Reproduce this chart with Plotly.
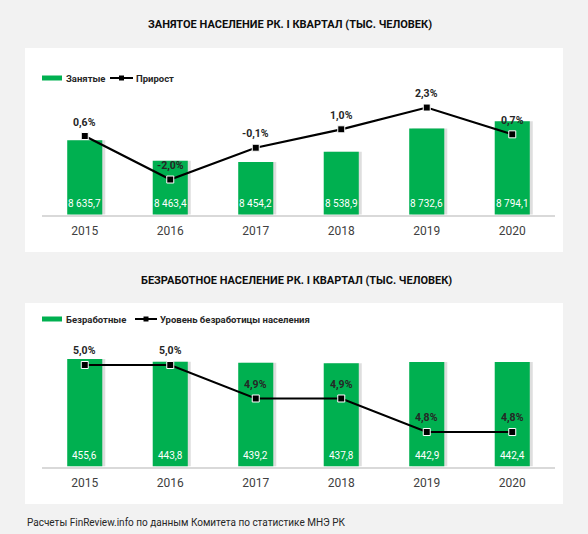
import plotly.graph_objects as go

# data
years = ["2015", "2016", "2017", "2018", "2019", "2020"]
employed = [8635.7, 8463.4, 8454.2, 8538.9, 8732.6, 8794.1]
employed_growth = [0.6, -2.0, -0.1, 1.0, 2.3, 0.7]
unemployed = [455.6, 443.8, 439.2, 437.8, 442.9, 442.4]
unemployment_rate = [5.0, 5.0, 4.9, 4.9, 4.8, 4.8]

title_top = "ЗАНЯТОЕ НАСЕЛЕНИЕ РК. I КВАРТАЛ (ТЫС. ЧЕЛОВЕК)"
title_bottom = "БЕЗРАБОТНОЕ НАСЕЛЕНИЕ РК. I КВАРТАЛ (ТЫС. ЧЕЛОВЕК)"
legend_top = ["Занятые", "Прирост"]
legend_bottom = ["Безработные", "Уровень безработицы населения"]
source_note = "Расчеты FinReview.info по данным Комитета по статистике МНЭ РК"

W, H = 588, 534
FONT = "Liberation Sans Narrow, Roboto, Arial, sans-serif"
GREEN = "#00b050"
BAR_W = 0.41


def fmt_num(v):
    return f"{v:,.1f}".replace(",", " ").replace(".", ",")


def fmt_pct(v):
    return f"{v:.1f}%".replace(".", ",")


def py(px):
    # pixel row -> paper fraction
    return 1 - px / H


def px_x(px):
    return px / W


fig = go.Figure()

panels = [
    # bars, line, axes (x, y, y2), bar axis range, line axis range
    (employed, employed_growth, ("x", "y", "y2"), [8015, 9013], [-4.09, 3.05]),
    (unemployed, unemployment_rate, ("x2", "y3", "y4"), [0, 536], [4.697, 5.0746]),
]

annotations = []
for bars, line, (xa, ya, ya2), yrange, y2range in panels:
    # soft shadow behind the bars
    fig.add_trace(go.Bar(x=years, y=bars, width=BAR_W, offset=-BAR_W / 2 + 0.035,
                         xaxis=xa, yaxis=ya,
                         marker=dict(color="rgba(0,0,0,0.13)", line=dict(width=0)),
                         showlegend=False, hoverinfo="skip"))
    fig.add_trace(go.Bar(x=years, y=bars, width=BAR_W, offset=-BAR_W / 2,
                         xaxis=xa, yaxis=ya,
                         marker=dict(color=GREEN, line=dict(width=0)),
                         showlegend=False))
    fig.add_trace(go.Scatter(x=years, y=line, mode="lines+markers",
                             xaxis=xa, yaxis=ya2,
                             line=dict(color="black", width=2.2),
                             marker=dict(symbol="square", size=7, color="black",
                                         line=dict(color="white", width=1)),
                             showlegend=False))

    # category axes take the category index for annotations
    for i, b in enumerate(bars):
        annotations.append(dict(x=i, y=yrange[0], xref=xa, yref=ya, yshift=11.5,
                                text=fmt_num(b), showarrow=False, yanchor="middle",
                                font=dict(family=FONT, size=10, color="white")))
    for i, v in enumerate(line):
        annotations.append(dict(x=i, y=v, xref=xa, yref=ya2, yshift=14,
                                text="<b>" + fmt_pct(v) + "</b>", showarrow=False,
                                yanchor="middle",
                                font=dict(family=FONT, size=10.5, color="#262626")))

# titles and note
annotations += [
    dict(x=px_x(290), y=py(24), xref="paper", yref="paper", text="<b>" + title_top + "</b>",
         showarrow=False, xanchor="center", yanchor="middle",
         font=dict(family=FONT, size=11, color="#0d0d0d")),
    dict(x=px_x(296), y=py(280), xref="paper", yref="paper", text="<b>" + title_bottom + "</b>",
         showarrow=False, xanchor="center", yanchor="middle",
         font=dict(family=FONT, size=11, color="#0d0d0d")),
    dict(x=px_x(25), y=py(522), xref="paper", yref="paper", text=source_note,
         showarrow=False, xanchor="left", yanchor="middle",
         font=dict(family=FONT, size=10, color="#262626")),
]

# white panels and hand-drawn legends
shapes = [
    dict(type="rect", xref="paper", yref="paper", x0=px_x(25), x1=px_x(563),
         y0=py(48), y1=py(252), fillcolor="white", line=dict(width=0), layer="below"),
    dict(type="rect", xref="paper", yref="paper", x0=px_x(25), x1=px_x(563),
         y0=py(303), y1=py(504), fillcolor="white", line=dict(width=0), layer="below"),
]
for labels, ly, line_x0, line_x1 in [(legend_top, 78, 110, 133), (legend_bottom, 319, 135, 157)]:
    shapes.append(dict(type="rect", xref="paper", yref="paper", x0=px_x(42), x1=px_x(62),
                       y0=py(ly + 2.5), y1=py(ly - 2.5), fillcolor=GREEN, line=dict(width=0)))
    shapes.append(dict(type="line", xref="paper", yref="paper", x0=px_x(line_x0), x1=px_x(line_x1),
                       y0=py(ly), y1=py(ly), line=dict(color="black", width=2)))
    mid = (line_x0 + line_x1) / 2
    shapes.append(dict(type="rect", xref="paper", yref="paper", x0=px_x(mid - 2.5), x1=px_x(mid + 2.5),
                       y0=py(ly + 2.5), y1=py(ly - 2.5), fillcolor="black", line=dict(width=0)))
    annotations.append(dict(x=px_x(64), y=py(ly), xref="paper", yref="paper",
                            text="<b>" + labels[0] + "</b>", showarrow=False,
                            xanchor="left", yanchor="middle",
                            font=dict(family=FONT, size=9.5, color="#262626")))
    annotations.append(dict(x=px_x(line_x1 + 1), y=py(ly), xref="paper", yref="paper",
                            text="<b>" + labels[1] + "</b>", showarrow=False,
                            xanchor="left", yanchor="middle",
                            font=dict(family=FONT, size=9.5, color="#262626")))

xdom = [px_x(42), px_x(555)]


def x_axis(anchor):
    return dict(domain=xdom, anchor=anchor, type="category", categoryorder="array",
                categoryarray=years, range=[-0.5, len(years) - 0.5],
                showline=True, linecolor="#d9d9d9", linewidth=1.5,
                showgrid=False, zeroline=False,
                ticks="outside", ticklen=4, tickcolor="rgba(0,0,0,0)",
                tickfont=dict(family=FONT, size=12, color="#404040"))


def y_axis(dom, rng, anchor, overlaying=None):
    d = dict(domain=dom, range=rng, anchor=anchor, showgrid=False, zeroline=False,
             showticklabels=False, showline=False)
    if overlaying:
        d["overlaying"] = overlaying
        d["side"] = "right"
    return d


top_dom = [py(214.5), py(95)]
bot_dom = [py(466.5), py(340)]

fig.update_layout(
    width=W, height=H,
    margin=dict(l=0, r=0, t=0, b=0),
    paper_bgcolor="#f2f2f2",
    plot_bgcolor="rgba(0,0,0,0)",
    barmode="overlay",
    showlegend=False,
    font=dict(family=FONT),
    xaxis=x_axis("y"),
    xaxis2=x_axis("y3"),
    yaxis=y_axis(top_dom, panels[0][3], "x"),
    yaxis2=y_axis(top_dom, panels[0][4], "x", overlaying="y"),
    yaxis3=y_axis(bot_dom, panels[1][3], "x2"),
    yaxis4=y_axis(bot_dom, panels[1][4], "x2", overlaying="y3"),
    annotations=annotations,
    shapes=shapes,
)

# the page's default body margin would push the figure off the window
fig.write_html("out.html", config={"displayModeBar": False},
               post_script="document.body.style.margin='0';")
